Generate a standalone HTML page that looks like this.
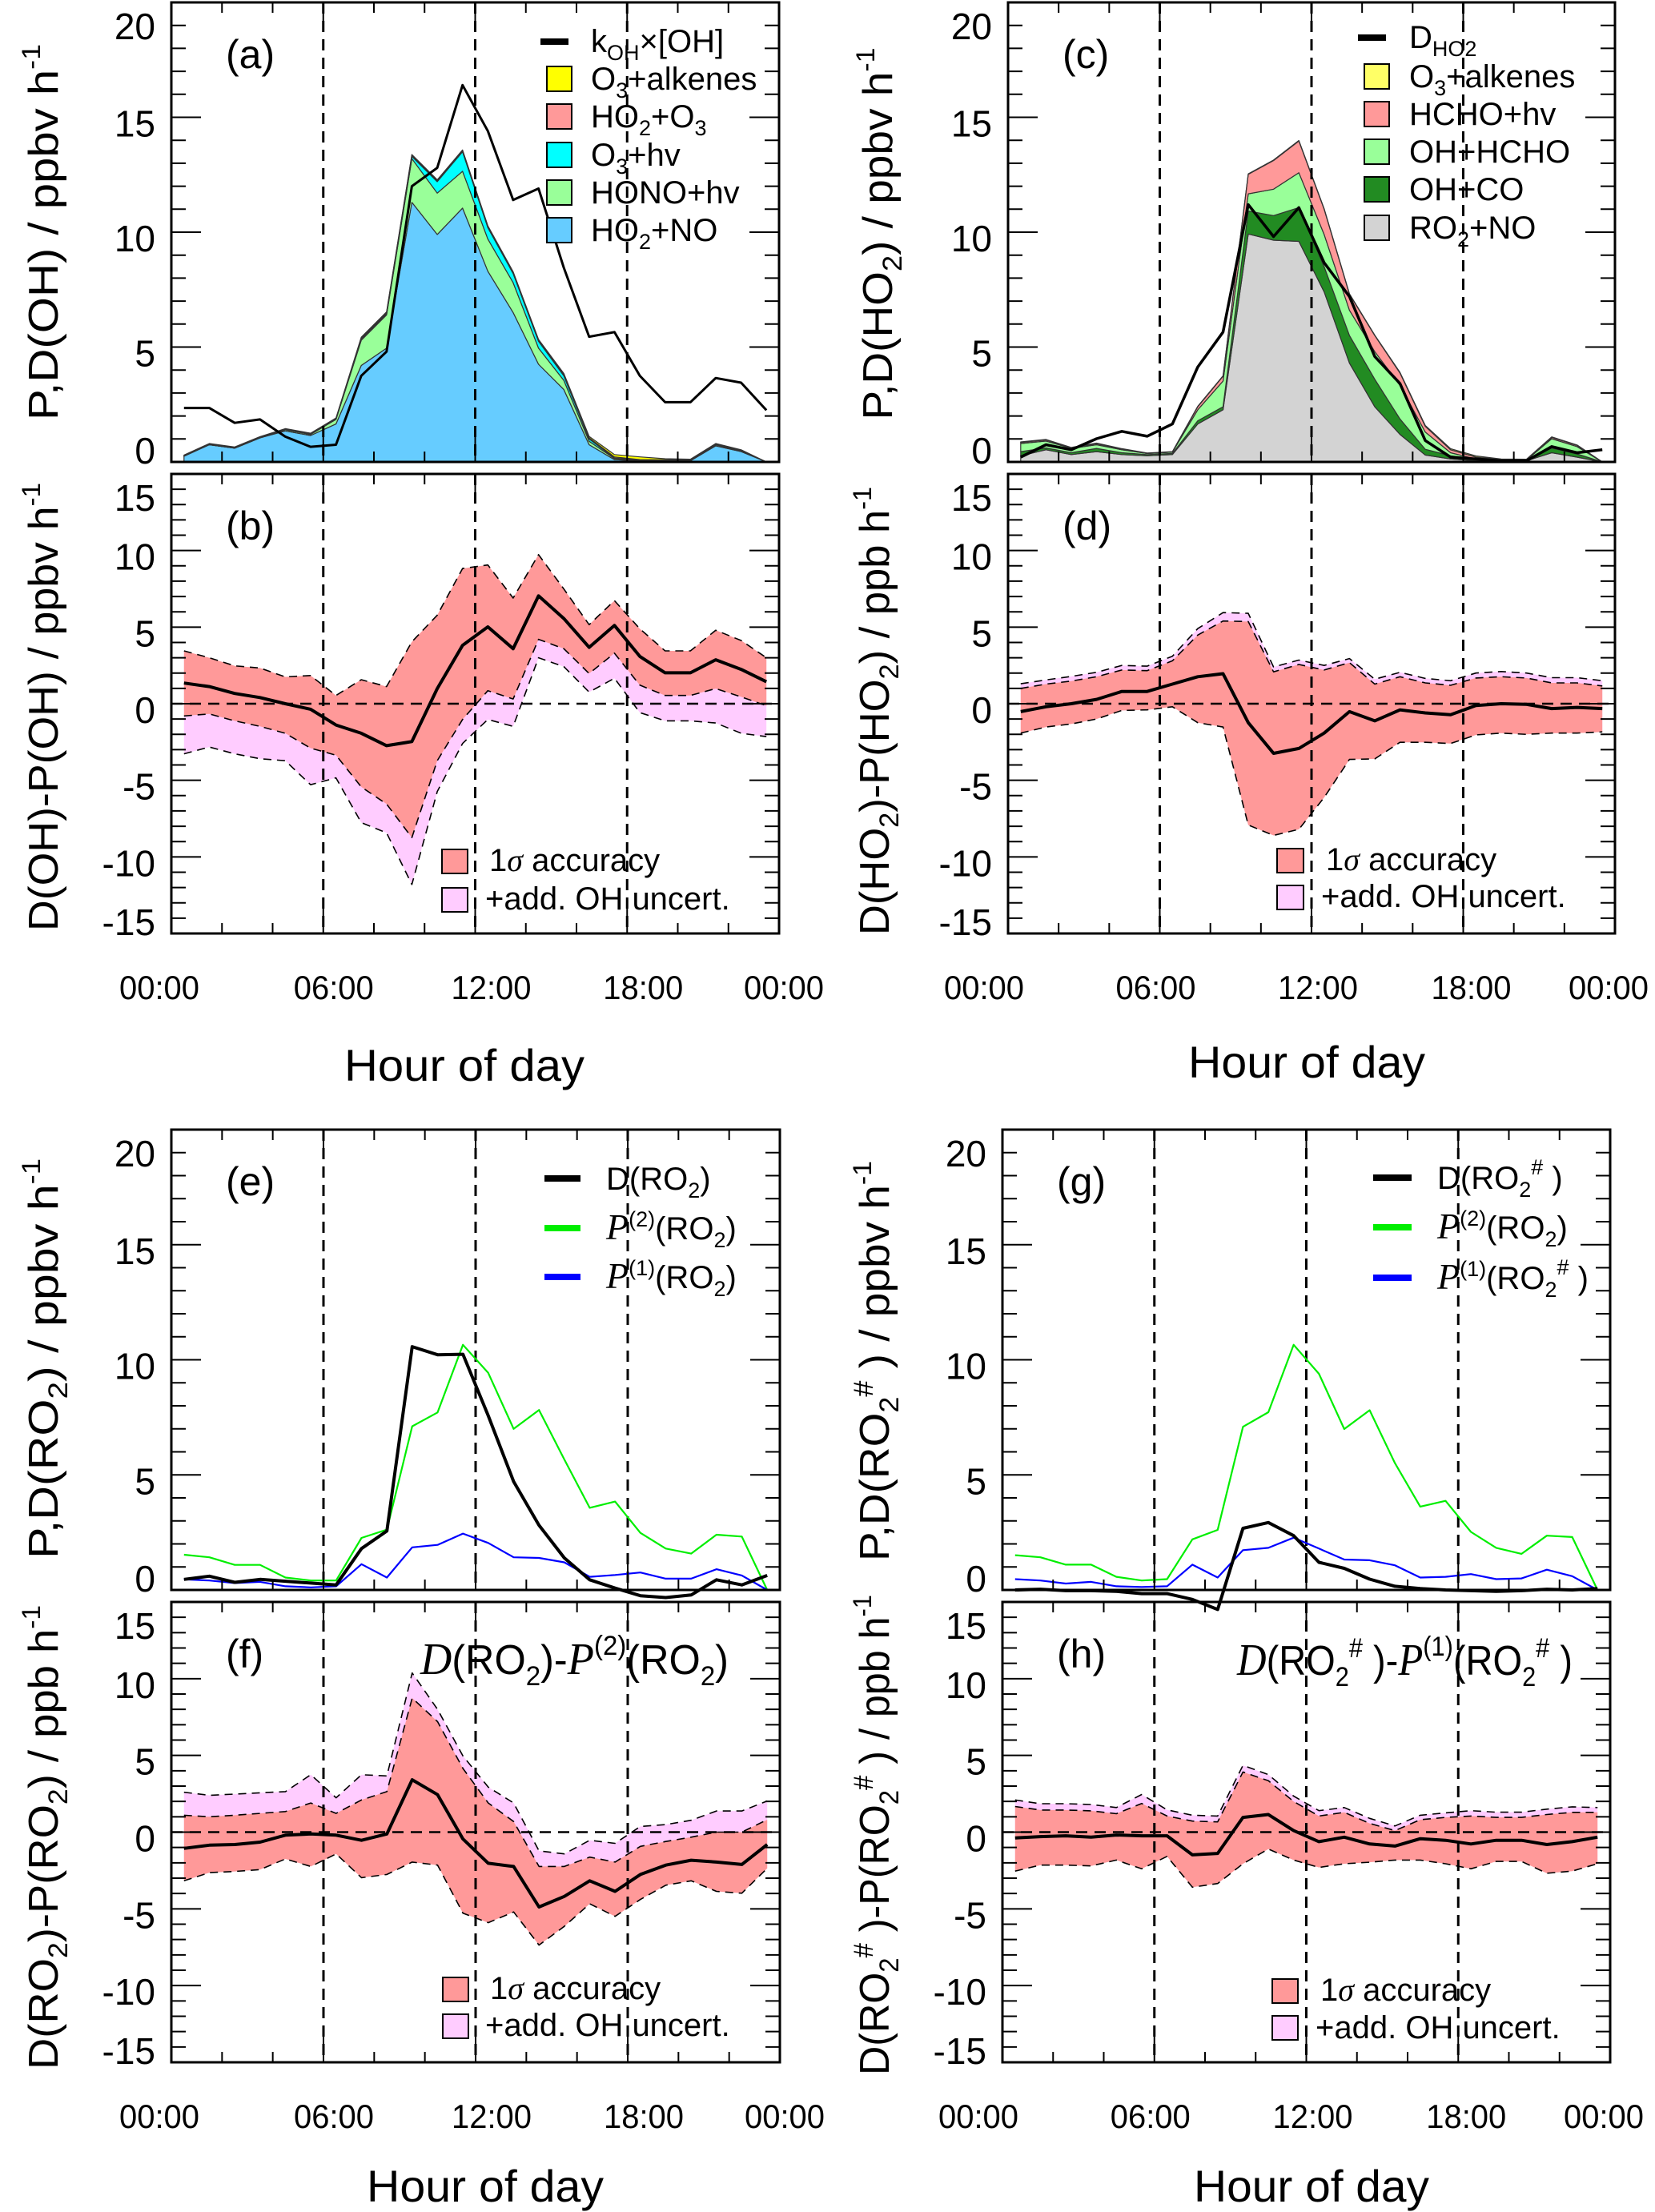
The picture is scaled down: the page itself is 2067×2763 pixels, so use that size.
<!DOCTYPE html>
<html><head><meta charset="utf-8"><title>OH, HO2, RO2 budgets</title>
<style>
html,body{margin:0;padding:0;background:#fff;}
svg{display:block;font-family:"Liberation Sans",Arial,sans-serif;}
</style></head>
<body>
<svg id="chart" xmlns="http://www.w3.org/2000/svg" width="2067" height="2763" viewBox="0 0 2067 2763">
<rect x="0" y="0" width="2067" height="2763" fill="#fff"/>
<g id="layer"></g>
<!-- legends -->
<g font-size="40">
  <line x1="675" y1="52" x2="710" y2="52" stroke="#000" stroke-width="8"/>
  <text x="738" y="65">k<tspan font-size="27" dy="10">OH</tspan><tspan dy="-10">×[OH]</tspan></text>
  <rect x="683" y="83" width="31" height="31" fill="#ffff00" stroke="#000" stroke-width="2"/>
  <text x="738" y="112">O<tspan font-size="27" dy="10">3</tspan><tspan dy="-10">+alkenes</tspan></text>
  <rect x="683" y="130" width="31" height="31" fill="#ff9999" stroke="#000" stroke-width="2"/>
  <text x="738" y="159">HO<tspan font-size="27" dy="10">2</tspan><tspan dy="-10">+O</tspan><tspan font-size="27" dy="10">3</tspan></text>
  <rect x="683" y="178" width="31" height="31" fill="#00ffff" stroke="#000" stroke-width="2"/>
  <text x="738" y="207">O<tspan font-size="27" dy="10">3</tspan><tspan dy="-10">+hv</tspan></text>
  <rect x="683" y="225" width="31" height="31" fill="#99ff99" stroke="#000" stroke-width="2"/>
  <text x="738" y="254">HONO+hv</text>
  <rect x="683" y="272" width="31" height="31" fill="#66ccff" stroke="#000" stroke-width="2"/>
  <text x="738" y="301">HO<tspan font-size="27" dy="10">2</tspan><tspan dy="-10">+NO</tspan></text>
</g>
<g font-size="40">
  <line x1="1696" y1="47" x2="1731" y2="47" stroke="#000" stroke-width="8"/>
  <text x="1760" y="60">D<tspan font-size="27" dy="10">HO2</tspan></text>
  <rect x="1704" y="80" width="31" height="31" fill="#ffff66" stroke="#000" stroke-width="2"/>
  <text x="1760" y="109">O<tspan font-size="27" dy="10">3</tspan><tspan dy="-10">+alkenes</tspan></text>
  <rect x="1704" y="127" width="31" height="31" fill="#ff9999" stroke="#000" stroke-width="2"/>
  <text x="1760" y="156">HCHO+hv</text>
  <rect x="1704" y="174" width="31" height="31" fill="#99ff99" stroke="#000" stroke-width="2"/>
  <text x="1760" y="203">OH+HCHO</text>
  <rect x="1704" y="221" width="31" height="31" fill="#228b22" stroke="#000" stroke-width="2"/>
  <text x="1760" y="250">OH+CO</text>
  <rect x="1704" y="269" width="31" height="31" fill="#d3d3d3" stroke="#000" stroke-width="2"/>
  <text x="1760" y="298">RO<tspan font-size="27" dy="10">2</tspan><tspan dy="-10">+NO</tspan></text>
</g>
<g font-size="40">
  <line x1="680" y1="1472" x2="725" y2="1472" stroke="#000" stroke-width="8"/>
  <text x="757" y="1486">D(RO<tspan font-size="27" dy="10">2</tspan><tspan dy="-10">)</tspan></text>
  <line x1="680" y1="1534" x2="725" y2="1534" stroke="#00ee00" stroke-width="8"/>
  <text x="757" y="1548"><tspan font-family="Liberation Serif,serif" font-style="italic" font-size="46">P</tspan><tspan font-size="27" dy="-16">(2)</tspan><tspan dy="16">(RO</tspan><tspan font-size="27" dy="10">2</tspan><tspan dy="-10">)</tspan></text>
  <line x1="680" y1="1595" x2="725" y2="1595" stroke="#0000ff" stroke-width="8"/>
  <text x="757" y="1609"><tspan font-family="Liberation Serif,serif" font-style="italic" font-size="46">P</tspan><tspan font-size="27" dy="-16">(1)</tspan><tspan dy="16">(RO</tspan><tspan font-size="27" dy="10">2</tspan><tspan dy="-10">)</tspan></text>
</g>
<g font-size="40">
  <line x1="1715" y1="1471" x2="1763" y2="1471" stroke="#000" stroke-width="8"/>
  <text x="1795" y="1485">D(RO<tspan font-size="27" dy="10">2</tspan><tspan font-size="27" dy="-28">#</tspan><tspan dy="18"> )</tspan></text>
  <line x1="1715" y1="1533" x2="1763" y2="1533" stroke="#00ee00" stroke-width="8"/>
  <text x="1795" y="1547"><tspan font-family="Liberation Serif,serif" font-style="italic" font-size="46">P</tspan><tspan font-size="27" dy="-16">(2)</tspan><tspan dy="16">(RO</tspan><tspan font-size="27" dy="10">2</tspan><tspan dy="-10">)</tspan></text>
  <line x1="1715" y1="1596" x2="1763" y2="1596" stroke="#0000ff" stroke-width="8"/>
  <text x="1795" y="1610"><tspan font-family="Liberation Serif,serif" font-style="italic" font-size="46">P</tspan><tspan font-size="27" dy="-16">(1)</tspan><tspan dy="16">(RO</tspan><tspan font-size="27" dy="10">2</tspan><tspan font-size="27" dy="-28">#</tspan><tspan dy="18"> )</tspan></text>
</g>
<!-- uncertainty legends -->
<g font-size="40">
  <rect x="552" y="1061" width="32" height="30" fill="#ff9999" stroke="#000" stroke-width="2"/>
  <text x="611" y="1088">1<tspan font-family="Liberation Serif,serif" font-style="italic">σ</tspan> accuracy</text>
  <rect x="552" y="1109" width="32" height="30" fill="#ffccff" stroke="#000" stroke-width="2"/>
  <text x="606" y="1136">+add. OH uncert.</text>
</g>
<g font-size="40">
  <rect x="1595" y="1060" width="33" height="30" fill="#ff9999" stroke="#000" stroke-width="2"/>
  <text x="1656" y="1087">1<tspan font-family="Liberation Serif,serif" font-style="italic">σ</tspan> accuracy</text>
  <rect x="1595" y="1106" width="33" height="30" fill="#ffccff" stroke="#000" stroke-width="2"/>
  <text x="1650" y="1133">+add. OH uncert.</text>
</g>
<g font-size="40">
  <rect x="553" y="2470" width="32" height="30" fill="#ff9999" stroke="#000" stroke-width="2"/>
  <text x="612" y="2497">1<tspan font-family="Liberation Serif,serif" font-style="italic">σ</tspan> accuracy</text>
  <rect x="553" y="2516" width="32" height="30" fill="#ffccff" stroke="#000" stroke-width="2"/>
  <text x="606" y="2543">+add. OH uncert.</text>
</g>
<g font-size="40">
  <rect x="1589" y="2472" width="32" height="30" fill="#ff9999" stroke="#000" stroke-width="2"/>
  <text x="1649" y="2499">1<tspan font-family="Liberation Serif,serif" font-style="italic">σ</tspan> accuracy</text>
  <rect x="1589" y="2518" width="32" height="30" fill="#ffccff" stroke="#000" stroke-width="2"/>
  <text x="1643" y="2546">+add. OH uncert.</text>
</g>
<!-- annotations -->
<text x="525" y="2091" font-size="52" textLength="385" lengthAdjust="spacingAndGlyphs"><tspan font-family="Liberation Serif,serif" font-style="italic" font-size="56">D</tspan>(RO<tspan font-size="34" dy="14">2</tspan><tspan dy="-14">)-</tspan><tspan font-family="Liberation Serif,serif" font-style="italic" font-size="56">P</tspan><tspan font-size="34" dy="-24">(2)</tspan><tspan dy="24">(RO</tspan><tspan font-size="34" dy="14">2</tspan><tspan dy="-14">)</tspan></text>
<text x="1545" y="2092" font-size="52" textLength="419" lengthAdjust="spacingAndGlyphs"><tspan font-family="Liberation Serif,serif" font-style="italic" font-size="56">D</tspan>(RO<tspan font-size="34" dy="14">2</tspan><tspan font-size="34" dy="-36">#</tspan><tspan dy="22"> )-</tspan><tspan font-family="Liberation Serif,serif" font-style="italic" font-size="56">P</tspan><tspan font-size="34" dy="-24">(1)</tspan><tspan dy="24">(RO</tspan><tspan font-size="34" dy="14">2</tspan><tspan font-size="34" dy="-36">#</tspan><tspan dy="22"> )</tspan></text>
<!-- y axis titles -->
<text transform="translate(72,290) rotate(-90)" text-anchor="middle" font-size="52" textLength="470" lengthAdjust="spacingAndGlyphs">P,D(OH) / ppbv h<tspan font-size="32" dy="-22">-1</tspan></text>
<text transform="translate(72,883) rotate(-90)" text-anchor="middle" font-size="52" textLength="560" lengthAdjust="spacingAndGlyphs">D(OH)-P(OH) / ppbv h<tspan font-size="32" dy="-22">-1</tspan></text>
<text transform="translate(1114,292) rotate(-90)" text-anchor="middle" font-size="52" textLength="465" lengthAdjust="spacingAndGlyphs">P,D(HO<tspan font-size="34" dy="12">2</tspan><tspan dy="-12">) / ppbv h</tspan><tspan font-size="32" dy="-22">-1</tspan></text>
<text transform="translate(1110,888) rotate(-90)" text-anchor="middle" font-size="52" textLength="560" lengthAdjust="spacingAndGlyphs">D(HO<tspan font-size="34" dy="12">2</tspan><tspan dy="-12">)-P(HO</tspan><tspan font-size="34" dy="12">2</tspan><tspan dy="-12">) / ppb h</tspan><tspan font-size="32" dy="-22">-1</tspan></text>
<text transform="translate(72,1697) rotate(-90)" text-anchor="middle" font-size="52" textLength="500" lengthAdjust="spacingAndGlyphs">P,D(RO<tspan font-size="34" dy="12">2</tspan><tspan dy="-12">) / ppbv h</tspan><tspan font-size="32" dy="-22">-1</tspan></text>
<text transform="translate(72,2295) rotate(-90)" text-anchor="middle" font-size="52" textLength="580" lengthAdjust="spacingAndGlyphs">D(RO<tspan font-size="34" dy="12">2</tspan><tspan dy="-12">)-P(RO</tspan><tspan font-size="34" dy="12">2</tspan><tspan dy="-12">) / ppb h</tspan><tspan font-size="32" dy="-22">-1</tspan></text>
<text transform="translate(1110,1700) rotate(-90)" text-anchor="middle" font-size="52" textLength="500" lengthAdjust="spacingAndGlyphs">P,D(RO<tspan font-size="34" dy="12">2</tspan><tspan font-size="34" dy="-32">#</tspan><tspan dy="20"> ) / ppbv h</tspan><tspan font-size="32" dy="-22">-1</tspan></text>
<text transform="translate(1110,2292) rotate(-90)" text-anchor="middle" font-size="52" textLength="600" lengthAdjust="spacingAndGlyphs">D(RO<tspan font-size="34" dy="12">2</tspan><tspan font-size="34" dy="-32">#</tspan><tspan dy="20"> )-P(RO</tspan><tspan font-size="34" dy="12">2</tspan><tspan font-size="34" dy="-32">#</tspan><tspan dy="20"> ) / ppb h</tspan><tspan font-size="32" dy="-22">-1</tspan></text>
<!-- x axis titles -->
<text x="580" y="1350" text-anchor="middle" font-size="56" textLength="300" lengthAdjust="spacingAndGlyphs">Hour of day</text>
<text x="1632" y="1346" text-anchor="middle" font-size="56" textLength="296" lengthAdjust="spacingAndGlyphs">Hour of day</text>
<text x="606" y="2750" text-anchor="middle" font-size="56" textLength="296" lengthAdjust="spacingAndGlyphs">Hour of day</text>
<text x="1638" y="2750" text-anchor="middle" font-size="56" textLength="294" lengthAdjust="spacingAndGlyphs">Hour of day</text>
</svg>
<script>
// ---- data ----
const hours = [0.5,1.5,2.5,3.5,4.5,5.5,6.5,7.5,8.5,9.5,10.5,11.5,12.5,13.5,14.5,15.5,16.5,17.5,18.5,19.5,20.5,21.5,22.5,23.5];
const xTickHours = [0,6,12,18,24];
const xTickLabels = ["00:00","06:00","12:00","18:00","00:00"];
const vLineHours = [6,12,18];
// panel a
const aKOH   = [2.35,2.35,1.7,1.85,1.1,0.66,0.75,3.75,4.8,12.0,12.8,16.4,14.4,11.4,11.9,8.45,5.45,5.65,3.75,2.6,2.6,3.65,3.45,2.25];
const aHO2NO = [0.25,0.75,0.6,1.05,1.35,1.15,1.65,4.2,4.95,11.3,9.9,11.05,8.3,6.5,4.25,3.15,0.75,0.1,0.05,0.05,0.05,0.7,0.45,0];
const aHONO  = [0,0,0,0,0.05,0.05,0.2,1.1,1.45,1.9,1.8,1.6,1.4,1.3,0.7,0.4,0.15,0.05,0.02,0.02,0.02,0.05,0.03,0];
const aO3hv  = [0,0,0,0,0,0,0,0.05,0.05,0.1,0.5,0.85,0.5,0.4,0.3,0.2,0.1,0.02,0,0,0,0,0,0];
const aHO2O3 = [0.02,0.02,0.02,0.02,0.02,0.02,0.03,0.05,0.05,0.05,0.05,0.05,0.05,0.05,0.05,0.05,0.05,0.05,0.03,0.02,0.02,0.02,0.02,0];
const aAlk   = [0.03,0.03,0.03,0.03,0.03,0.03,0.03,0.03,0.03,0.03,0.03,0.03,0.03,0.03,0.03,0.05,0.06,0.1,0.12,0.05,0.03,0.03,0.03,0];
// panel b
const bDiff  = [1.35,1.12,0.67,0.4,0,-0.36,-1.39,-1.93,-2.74,-2.47,0.99,3.81,5.02,3.59,7.04,5.56,3.68,5.11,3.09,2.02,2.02,2.87,2.24,1.43];
const bHi    = [3.45,3.0,2.47,2.33,1.75,1.84,0.54,1.57,1.12,4.04,5.78,8.83,9.06,6.9,9.73,7.49,5.16,6.73,4.89,3.45,3.45,4.8,4.13,3.0];
const bLo    = [-0.8,-0.67,-1.12,-1.48,-1.93,-2.9,-3.36,-5.43,-6.55,-8.74,-3.72,-1.03,0.85,0.31,4.2,3.59,1.97,3.3,1.21,0.54,0.54,0.99,0.45,-0.13];
const bPink  = [-3.27,-2.83,-3.27,-3.59,-3.72,-5.29,-4.84,-7.76,-8.43,-11.8,-5.74,-2.6,-1.03,-1.48,3.0,2.42,0.76,1.66,-0.58,-1.12,-1.12,-1.26,-1.93,-2.15];
// panel c
const cDHO2  = [0.21,0.75,0.53,1.01,1.33,1.12,1.65,4.13,5.65,11.2,9.81,11.07,8.67,7.2,4.59,3.41,0.93,0.21,0.13,0.05,0.05,0.67,0.4,0.53];
const cRO2NO = [0.27,0.53,0.32,0.45,0.32,0.27,0.32,1.65,2.27,9.92,9.65,9.6,7.4,4.3,2.4,1.2,0.3,0.13,0.05,0.05,0.05,0.4,0.21,0];
const cOHCO  = [0.18,0.08,0.08,0.14,0.08,0.05,0.05,0.14,0.13,1.0,1.07,1.47,1.1,1.2,1.2,0.67,0.25,0.14,0.08,0,0,0.21,0.14,0];
const cOHHCHO= [0.35,0.3,0.19,0.16,0.13,0.05,0.06,0.48,1.12,0.75,1.15,1.52,1.4,1.1,1.2,1.46,0.75,0.13,0,0.03,0.03,0.4,0.32,0];
const cHCHOhv= [0.05,0.05,0.02,0.05,0.03,0,0,0.13,0.21,0.85,1.25,1.38,1.1,0.7,0.7,0.54,0.25,0.13,0.08,0.02,0.02,0.06,0.05,0];
const cAlk   = [0.02,0.02,0.02,0.02,0.02,0.02,0.02,0.02,0.02,0.02,0.02,0.02,0.02,0.02,0.02,0.03,0.04,0.05,0.05,0.03,0.02,0.02,0.02,0];
// panel d
const dDiff  = [-0.52,-0.2,0,0.28,0.8,0.8,1.28,1.76,1.96,-1.24,-3.24,-2.92,-1.92,-0.52,-1.12,-0.4,-0.6,-0.72,-0.12,0,-0.04,-0.32,-0.24,-0.32];
const dHi    = [1.0,1.28,1.48,1.76,2.2,2.16,2.8,4.48,5.4,5.36,2.08,2.56,2.2,2.68,1.28,1.76,1.36,1.2,1.68,1.76,1.68,1.36,1.36,1.16];
const dLo    = [-1.92,-1.52,-1.32,-1.0,-0.44,-0.4,-0.2,-1.24,-1.52,-7.92,-8.6,-8.2,-6.12,-3.64,-3.6,-2.52,-2.52,-2.6,-2.04,-1.92,-2.0,-1.92,-1.92,-1.84];
const dPink  = [1.3,1.55,1.78,2.05,2.5,2.45,3.1,4.9,5.95,5.9,2.4,2.85,2.5,2.95,1.6,2.05,1.65,1.5,2.0,2.1,2.0,1.7,1.7,1.5];
// panel e
const eD     = [0.46,0.6,0.33,0.46,0.38,0.3,0.22,1.8,2.56,10.57,10.22,10.24,7.57,4.71,2.81,1.39,0.44,0.08,-0.25,-0.33,-0.22,0.44,0.22,0.63];
const eP2    = [1.53,1.42,1.09,1.09,0.54,0.41,0.41,2.26,2.62,7.11,7.71,10.65,9.43,7.0,7.82,5.67,3.57,3.84,2.48,1.8,1.58,2.4,2.32,0];
const eP1    = [0.46,0.41,0.3,0.35,0.16,0.11,0.16,1.12,0.54,1.85,1.96,2.45,2.04,1.42,1.39,1.2,0.57,0.65,0.76,0.49,0.49,0.9,0.63,0];
// panel f
const fDiff  = [-1.06,-0.85,-0.81,-0.65,-0.2,-0.12,-0.2,-0.53,-0.12,3.41,2.44,-0.45,-2.03,-2.24,-4.88,-4.19,-3.17,-3.86,-2.76,-2.15,-1.83,-1.95,-2.11,-0.81];
const fHi    = [1.1,1.0,1.1,1.22,1.34,1.9,1.22,2.1,2.64,8.74,7.2,4.15,1.9,0.69,-2.24,-2.24,-1.63,-1.95,-0.93,-0.61,-0.33,0,0,0.81];
const fLo    = [-3.17,-2.64,-2.56,-2.44,-1.75,-2.24,-1.42,-2.97,-2.76,-1.95,-2.15,-5.28,-5.9,-5.2,-7.36,-6.14,-4.67,-5.49,-4.39,-3.46,-3.17,-3.86,-3.98,-2.36];
const fPink  = [2.6,2.4,2.48,2.56,2.64,3.74,2.24,3.74,3.66,10.37,8.0,4.96,2.93,1.9,-1.22,-1.42,-0.53,-0.73,0.37,0.49,0.77,1.38,1.38,2.03];
// panel g
const gD     = [0,0.03,-0.03,-0.03,-0.06,-0.16,-0.16,-0.41,-0.85,2.68,2.93,2.36,1.2,0.94,0.47,0.16,0.06,0,-0.03,-0.06,-0.03,0.03,0,0.06];
const gP2    = [1.51,1.42,1.1,1.1,0.57,0.41,0.47,2.2,2.61,7.09,7.72,10.65,9.39,6.99,7.81,5.51,3.62,3.87,2.52,1.83,1.57,2.36,2.3,0];
const gP1    = [0.47,0.41,0.28,0.35,0.16,0.13,0.16,1.1,0.54,1.73,1.83,2.27,1.8,1.32,1.29,1.07,0.54,0.57,0.69,0.47,0.5,0.88,0.6,0];
// panel h
const hDiff  = [-0.38,-0.29,-0.24,-0.33,-0.19,-0.24,-0.24,-1.48,-1.39,0.96,1.15,0.1,-0.62,-0.33,-0.77,-0.91,-0.43,-0.53,-0.77,-0.53,-0.53,-0.81,-0.62,-0.33];
const hHi    = [1.67,1.44,1.44,1.39,1.2,1.87,1.05,0.72,0.67,3.92,3.35,2.0,1.05,1.29,0.57,0.1,0.81,0.96,1.05,0.96,0.96,1.15,1.29,1.29];
const hLo    = [-2.54,-2.15,-2.15,-2.2,-1.82,-2.39,-1.58,-3.59,-3.35,-2.06,-1.1,-1.82,-2.3,-2.06,-1.96,-1.82,-1.82,-2.06,-2.39,-1.91,-1.91,-2.68,-2.54,-2.06];
const hPink  = [2.1,1.85,1.85,1.8,1.6,2.45,1.45,1.1,1.05,4.35,3.75,2.35,1.4,1.6,0.9,0.4,1.1,1.25,1.4,1.3,1.3,1.5,1.65,1.6];

// ---- layout ----
const NS = "http://www.w3.org/2000/svg";
const root = document.getElementById('layer');
const panels = {
  a:{x0:214,x1:973,y0:3,y1:577,min:0,max:20,lab:"(a)"},
  b:{x0:214,x1:973,y0:592,y1:1166,min:-15,max:15,lab:"(b)"},
  c:{x0:1259,x1:2017,y0:3,y1:577,min:0,max:20,lab:"(c)"},
  d:{x0:1259,x1:2017,y0:592,y1:1166,min:-15,max:15,lab:"(d)"},
  e:{x0:214,x1:974,y0:1411,y1:1986,min:0,max:20,lab:"(e)"},
  f:{x0:214,x1:974,y0:2001,y1:2576,min:-15,max:15,lab:"(f)"},
  g:{x0:1252,x1:2011,y0:1411,y1:1986,min:0,max:20,lab:"(g)"},
  h:{x0:1252,x1:2011,y0:2001,y1:2576,min:-15,max:15,lab:"(h)"}
};
const labelNudgeLeft = [-15,13,20,20,6];
const labelNudgeRight = [-30,-5,8,10,-8];
function X(p,h){ return p.x0 + h/24*(p.x1-p.x0); }
function Y(p,v){ return p.y1 - (v-p.min)/(p.max-p.min)*(p.y1-p.y0); }
function mk(tag, parent){ const e=document.createElementNS(NS,tag); (parent||root).appendChild(e); return e; }
function pts(p, vals){ return vals.map((v,i)=>X(p,hours[i]).toFixed(1)+','+Y(p,v).toFixed(1)).join(' '); }
function bandPts(p, lo, hi){
  const up = hours.map((h,i)=>X(p,h).toFixed(1)+','+Y(p,hi[i]).toFixed(1));
  const dn = hours.map((h,i)=>X(p,h).toFixed(1)+','+Y(p,lo[i]).toFixed(1)).reverse();
  return up.concat(dn).join(' ');
}
function stack(p, layers, colors, names){
  let cum = hours.map(()=>0);
  layers.forEach((L,k)=>{
    const top = cum.map((c,i)=>c+L[i]);
    const poly = mk('polygon');
    poly.setAttribute('points', bandPts(p, cum, top));
    poly.setAttribute('fill', colors[k]);
    poly.setAttribute('stroke', '#333');
    poly.setAttribute('stroke-width', '1.2');
    poly.setAttribute('stroke-linejoin', 'round');
    
    
    cum = top;
  });
}
function band(p, lo, hi, fill, name){
  const poly = mk('polygon');
  poly.setAttribute('points', bandPts(p, lo, hi));
  poly.setAttribute('fill', fill);
  
  
}
function line(p, vals, color, width, name, dash){
  const pl = mk('polyline');
  pl.setAttribute('points', pts(p, vals));
  pl.setAttribute('fill', 'none');
  pl.setAttribute('stroke', color);
  pl.setAttribute('stroke-width', width);
  pl.setAttribute('stroke-linejoin', 'round');
  if (dash) pl.setAttribute('stroke-dasharray', dash);
  
  
}
function seg(x1,y1,x2,y2,w,name,dash){
  const l = mk('line');
  l.setAttribute('x1',x1); l.setAttribute('y1',y1); l.setAttribute('x2',x2); l.setAttribute('y2',y2);
  l.setAttribute('stroke','#000'); l.setAttribute('stroke-width',w);
  if (dash) l.setAttribute('stroke-dasharray', dash);
  
  
}
function guides(key){
  const p = panels[key];
  vLineHours.forEach(h=>{
    seg(X(p,h),p.y0,X(p,h),p.y1,3,'vline-'+key+'-'+h,'14 9');
  });
  if (p.min < 0) seg(p.x0,Y(p,0),p.x1,Y(p,0),2.5,'zero-line-'+key,'14 9');
}
function axes(key, showX){
  const p = panels[key];
  const fr = mk('rect');
  fr.setAttribute('x',p.x0); fr.setAttribute('y',p.y0);
  fr.setAttribute('width',p.x1-p.x0); fr.setAttribute('height',p.y1-p.y0);
  fr.setAttribute('fill','none'); fr.setAttribute('stroke','#000'); fr.setAttribute('stroke-width','3');
  
  
  for (let v=p.min; v<=p.max; v++){
    const major = (v%5===0);
    const len = major?37:18;
    const y = Y(p,v);
    seg(p.x0,y,p.x0+len,y,2,'ytick-'+key);
    seg(p.x1,y,p.x1-len,y,2,'ytick-right-'+key);
    if (major){
      const t = mk('text');
      let cy = Math.min(Math.max(y+8, p.y0+30), p.y1-14);
      t.setAttribute('x', p.x0-20); t.setAttribute('y', cy+16);
      t.setAttribute('text-anchor','end'); t.setAttribute('font-size','46');
      t.textContent = String(v);
      
      
    }
  }
  for (let h=2; h<24; h+=2){
    const len = (h%6===0)?33:13;
    seg(X(p,h),p.y0,X(p,h),p.y0+len,2,'xtick-top-'+key);
    seg(X(p,h),p.y1,X(p,h),p.y1-len,2,'xtick-bottom-'+key);
  }
  if (showX){
    const nudge = p.x0 > 1000 ? labelNudgeRight : labelNudgeLeft;
    xTickHours.forEach((h,i)=>{
      const t = mk('text');
      t.setAttribute('x', X(p,h)+nudge[i]); t.setAttribute('y', p.y1+82);
      t.setAttribute('text-anchor','middle'); t.setAttribute('font-size','42');
      t.setAttribute('textLength','100'); t.setAttribute('lengthAdjust','spacingAndGlyphs');
      t.textContent = xTickLabels[i];
      
      
    });
  }
  const lb = mk('text');
  lb.setAttribute('x', p.x0+68); lb.setAttribute('y', p.y0+82);
  lb.setAttribute('font-size','50');
  lb.textContent = p.lab;
  
  
}
function diffPanel(key, lo, hi, pink, diff){
  const p = panels[key];
  const pLo = pink.map((v,i)=>Math.min(v, lo[i]));
  const pHi = pink.map((v,i)=>Math.max(v, hi[i]));
  band(p, pLo, pHi, '#ffccff', 'oh-uncert-band-'+key);
  band(p, lo, hi, '#ff9999', 'accuracy-band-'+key);
  line(p, pink, '#000', 1.6, 'oh-uncert-edge-'+key, '10 7');
  line(p, lo, '#000', 1.6, 'accuracy-lower-edge-'+key, '10 7');
  line(p, hi, '#000', 1.6, 'accuracy-upper-edge-'+key, '10 7');
  guides(key);
  line(p, diff, '#000', 4, 'difference-line-'+key);
  axes(key, key==='b'||key==='d'||key==='f'||key==='h');
}
// panel a
stack(panels.a, [aHO2NO,aHONO,aO3hv,aHO2O3,aAlk], ['#66ccff','#99ff99','#00ffff','#ff9999','#ffff00'],
  ['area-ho2-no','area-hono-hv','area-o3-hv','area-ho2-o3','area-o3-alkenes']);
guides('a');
line(panels.a, aKOH, '#000', 3, 'line-koh-oh');
axes('a', false);
// panel b
diffPanel('b', bLo, bHi, bPink, bDiff);
// panel c
stack(panels.c, [cRO2NO,cOHCO,cOHHCHO,cHCHOhv,cAlk], ['#d3d3d3','#228b22','#99ff99','#ff9999','#ffff66'],
  ['area-ro2-no','area-oh-co','area-oh-hcho','area-hcho-hv','area-o3-alkenes-c']);
guides('c');
line(panels.c, cDHO2, '#000', 3.5, 'line-d-ho2');
axes('c', false);
// panel d
diffPanel('d', dLo, dHi, dPink, dDiff);
// panel e
guides('e');
line(panels.e, eP2, '#00ee00', 2.2, 'line-p2-ro2');
line(panels.e, eP1, '#0000ff', 2.2, 'line-p1-ro2');
line(panels.e, eD, '#000', 4, 'line-d-ro2');
axes('e', false);
// panel f
diffPanel('f', fLo, fHi, fPink, fDiff);
// panel g
guides('g');
line(panels.g, gP2, '#00ee00', 2.2, 'line-p2-ro2-g');
line(panels.g, gP1, '#0000ff', 2.2, 'line-p1-ro2h');
line(panels.g, gD, '#000', 4, 'line-d-ro2h');
axes('g', false);
// panel h
diffPanel('h', hLo, hHi, hPink, hDiff);
</script>
</body></html>
